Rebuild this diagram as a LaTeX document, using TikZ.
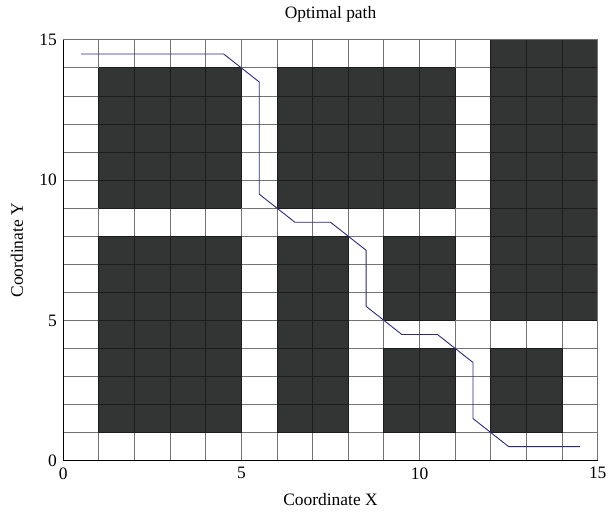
\documentclass[tikz,border=0pt]{standalone}
\usepackage{fontspec}
\setmainfont{Liberation Serif}
\usepackage{tikz}
\definecolor{Obstacle}{RGB}{51, 52, 52}
\definecolor{ObstacleLine}{RGB}{28, 28, 28}
\definecolor{FreeLine}{RGB}{115, 115, 115}
\definecolor{PathBlue}{RGB}{42, 42, 128}
\tikzstyle{freegrid} = [FreeLine, line width=1pt]
\tikzstyle{block} = [fill=Obstacle, draw=ObstacleLine, line width=1pt]
\tikzstyle{route} = [PathBlue, line width=0.9pt, line join=round]
\tikzstyle{ticklabel} = [font=\fontsize{17.5}{20}\selectfont, inner sep=1pt]
\tikzstyle{axislabel} = [font=\fontsize{17.5}{20}\selectfont]

\begin{document}
\begin{tikzpicture}[x=35.63bp, y=28.05bp]
\useasboundingbox (-1.777,-2.007) rectangle (15.288,16.424);

% Free cells
\draw[freegrid] (0,0) grid[step=1] (15,15);

% Obstacles
\foreach \xa/\ya/\xb/\yb in {1/9/5/14, 6/9/11/14, 12/5/15/15, 1/1/5/8, 6/1/8/8, 9/5/11/8, 9/1/11/4, 12/1/14/4}
{
    \fill[Obstacle] (\xa,\ya) rectangle (\xb,\yb);
    \draw[block] (\xa,\ya) grid[step=1] (\xb,\yb);
}

% Frame
\draw[FreeLine, line width=1pt] (0,15) -- (15,15) -- (15,0);
\draw[black, line width=1pt] (0,15) -- (0,0) -- (15,0);

% Optimal path
\draw[route] (0.5,14.5) -- (4.5,14.5) -- (5.5,13.5) -- (5.5,9.5) -- (6.5,8.5)
    -- (7.5,8.5) -- (8.5,7.5) -- (8.5,5.5) -- (9.5,4.5) -- (10.5,4.5)
    -- (11.5,3.5) -- (11.5,1.5) -- (12.5,0.5) -- (14.5,0.5);

% Ticks
\foreach \t in {0,5,10,15}
{
    \node[ticklabel, below] (xt\t) at (\t,-0.2) {\t};
    \node[ticklabel, left] (yt\t) at (-0.15,\t) {\t};
}

% Labels
\node[axislabel] (title) at (7.5,15.93) {Optimal path};
\node[axislabel] (xlabel) at (7.5,-1.40) {Coordinate X};
\node[axislabel, rotate=90] (ylabel) at (-1.30,7.5) {Coordinate Y};

\end{tikzpicture}
\end{document}
